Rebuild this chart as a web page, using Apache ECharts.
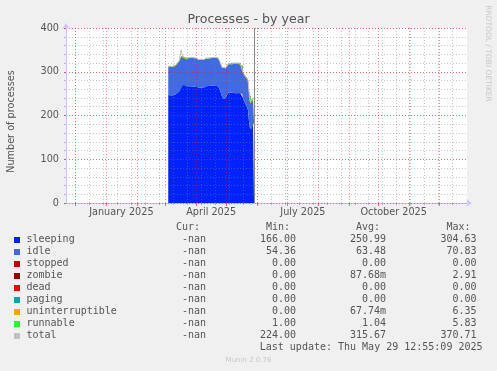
<!DOCTYPE html>
<html><head><meta charset="utf-8">
<script src="https://cdn.jsdelivr.net/npm/echarts@6/dist/echarts.min.js"></script>
<style>html,body{margin:0;padding:0;background:#f0f0f0}#c{width:497px;height:371px}</style>
</head><body><div id="c"></div>
<script>
// ---------- data ----------
const dates = ['2025-03-04','2025-03-08','2025-03-11','2025-03-13','2025-03-15','2025-03-17','2025-03-18','2025-03-19','2025-03-22','2025-03-26','2025-03-31','2025-04-04','2025-04-08','2025-04-11','2025-04-15','2025-04-19','2025-04-23','2025-04-25','2025-04-27','2025-04-29','2025-05-01','2025-05-03','2025-05-07','2025-05-11','2025-05-15','2025-05-17','2025-05-18','2025-05-20','2025-05-22','2025-05-23','2025-05-24','2025-05-25','2025-05-26','2025-05-27','2025-05-28','2025-05-29'];
const sleeping = [247,246,248,250,255,268,274,270,267,267,266,264,263,267,268,268,267,258,243,238,243,252,252,251,252,250,240,228,220,212,186,170,166,172,180,184];
const idle = [65,65,63,67,69,66,64,63,61,65,65,63,64,63,63,64,64,63,66,67,65,65,65,68,67,65,57,61,65,65,67,57,61,58,56,56];
const stopped = [0,0,0,0,0,0,0,0,0,0,0,0,0,0,0,0,0,0,0,0,0,0,0,0,0,0,0,0,0,0,0,0,0,0,0,0];
const zombie = [0,0,2,0,0,0,0,0,0,0,0,0,0,0,0,0,0,0,0,0,0,0,0,0,0,0,0,0,0,0,0,0,0,0,0,0];
const dead = [0,0,0,0,0,0,0,0,0,0,0,0,0,0,0,0,0,0,0,0,0,0,0,0,0,0,0,0,0,0,0,0,0,0,0,0];
const paging = [0,0,0,0,0,0,0,0,0,0,0,0,0,0,0,0,0,0,0,0,0,0,0,0,0,0,0,0,0,0,0,0,0,0,0,0];
const uninterruptible = [0,0,0,0,0,0,0,0,0,0,0,0,0,0,0,0,0,0,0,0,0,0,0,0,0,0,0,0,0,3,0,0,0,0,0,0];
const runnable = [1,1,1,1,1,2,1,1,4,1,1,1,1,1,1,1,1,1,1,1,1,1,3,1,1,1,1,1,1,1,1,5,1,1,1,1];
const total = [313,312,314,318,325,350,339,334,332,333,332,328,328,331,332,333,332,322,310,306,309,318,320,320,320,316,298,290,286,281,254,232,228,231,237,241];

const xStart = '2024-11-21T12:00:00Z';
const xEnd = '2025-12-28T12:00:00Z';
const lastUpdate = '2025-05-29';
const monthStarts = ['2024-12-01','2025-01-01','2025-02-01','2025-03-01','2025-04-01','2025-05-01','2025-06-01','2025-07-01','2025-08-01','2025-09-01','2025-10-01','2025-11-01','2025-12-01'];
const weekMarks = ['2024-12-01','2024-12-15','2024-12-29','2025-01-12','2025-01-26','2025-02-09','2025-02-23','2025-03-09','2025-03-23','2025-04-06','2025-04-20','2025-05-04','2025-05-18','2025-06-01','2025-06-15','2025-06-29','2025-07-13','2025-07-27','2025-08-10','2025-08-24','2025-09-07','2025-09-21','2025-10-05','2025-10-19','2025-11-02','2025-11-16','2025-11-30','2025-12-14'];
const xLabelDates = ['2025-01-16','2025-04-16','2025-07-17','2025-10-16'];
const xLabelTexts = ['January 2025','April 2025','July 2025','October 2025'];
const yTicks = [0,100,200,300,400];

const legendNames = ['sleeping','idle','stopped','zombie','dead','paging','uninterruptible','runnable','total'];
const curVals = ['-nan','-nan','-nan','-nan','-nan','-nan','-nan','-nan','-nan'];
const minVals = ['166.00','54.36','0.00','0.00','0.00','0.00','0.00','1.00','224.00'];
const avgVals = ['250.99','63.48','0.00','87.68m','0.00','0.00','67.74m','1.04','315.67'];
const maxVals = ['304.63','70.83','0.00','2.91','0.00','0.00','6.35','5.83','370.71'];
const colHeads = ['Cur:','Min:','Avg:','Max:'];
const lastUpdateText = 'Last update: Thu May 29 12:55:09 2025';

// ---------- styles ----------
const colors = ['#0022ff','#4169e1','#cc0000','#990000','#ff0000','#00aaaa','#ffa500','#22ff22','#c0c0c0'];
const stackSeries = [sleeping, idle, stopped, zombie, dead, paging, uninterruptible, runnable];
const ts = d => Date.parse(d.length === 10 ? d + 'T00:00:00Z' : d);
const TXT = '#555';
const SANS = 'DejaVu Sans';
const MONO = 'DejaVu Sans Mono';

const series = stackSeries.map((arr, i) => ({
  name: legendNames[i], type: 'line', stack: 'procs', symbol: 'none',
  xAxisIndex: 0, yAxisIndex: 0,
  data: dates.map((d, k) => [ts(d), arr[k]]),
  lineStyle: { width: 0 },
  areaStyle: { color: colors[i], opacity: 1 },
  itemStyle: { color: colors[i] },
  z: 2, silent: true
}));
series.push({
  name: 'total', type: 'line', symbol: 'none', z: 3, silent: true,
  xAxisIndex: 0, yAxisIndex: 0,
  data: dates.map((d, k) => [ts(d), total[k]]),
  lineStyle: { width: 1, color: colors[8] },
  markLine: {
    silent: true, symbol: 'none', animation: false, label: { show: false },
    z: 6,
    data: [
      ...weekMarks.map(d => ({ xAxis: ts(d), lineStyle: { color: 'rgba(128,128,128,0.45)', type: [1, 2], width: 1 } })),
      ...monthStarts.map(d => ({ xAxis: ts(d), lineStyle: { color: 'rgba(255,0,0,0.45)', type: [1, 2], width: 1 } })),
      { xAxis: ts(lastUpdate), lineStyle: { color: '#888', type: 'solid', width: 1 } }
    ]
  }
});

// ---------- legend / texts ----------
const graphics = [];
graphics.push({ type: 'text', x: 248.5, y: 19.5, style: { text: 'Processes - by year', font: '12.6px "' + SANS + '"', fill: TXT, align: 'center', verticalAlign: 'middle' } });
graphics.push({ type: 'text', x: 11, y: 121.5, rotation: Math.PI / 2, style: { text: 'Number of processes', font: '9.7px "' + SANS + '"', fill: TXT, align: 'center', verticalAlign: 'middle' } });
graphics.push({ type: 'text', x: 488, y: 53.5, rotation: -Math.PI / 2, style: { text: 'RRDTOOL / TOBI OETIKER', font: '7.5px "' + SANS + '"', fill: '#c8c8c8', align: 'center', verticalAlign: 'middle' } });
graphics.push({ type: 'text', x: 248.5, y: 360.5, style: { text: 'Munin 2.0.76', font: '7px "' + SANS + '"', fill: '#c8c8c8', align: 'center', verticalAlign: 'middle' } });
const colRight = [206, 296, 386, 476.5];
const headY = 227.7;
colHeads.forEach((h, j) => graphics.push({ type: 'text', x: colRight[j] - 6, y: headY, style: { text: h, font: '10px "' + MONO + '"', fill: TXT, align: 'right', verticalAlign: 'middle' } }));
legendNames.forEach((n, i) => {
  const y = 239.7 + 12 * i;
  graphics.push({ type: 'rect', shape: { x: 14, y: Math.round(y - 3), width: 6, height: 6 }, style: { fill: colors[i] } });
  graphics.push({ type: 'text', x: 26.5, y: y, style: { text: n, font: '10px "' + MONO + '"', fill: TXT, align: 'left', verticalAlign: 'middle' } });
  [curVals[i], minVals[i], avgVals[i], maxVals[i]].forEach((v, j) => graphics.push({ type: 'text', x: colRight[j], y: y, style: { text: v, font: '10px "' + MONO + '"', fill: TXT, align: 'right', verticalAlign: 'middle' } }));
});
graphics.push({ type: 'text', x: 482.5, y: 239.7 + 12 * 9 - 0.5, style: { text: lastUpdateText, font: '10px "' + MONO + '"', fill: TXT, align: 'right', verticalAlign: 'middle' } });

const nearestLabel = v => { let best = 0; xLabelDates.forEach((d, i) => { if (Math.abs(ts(d) - v) < Math.abs(ts(xLabelDates[best]) - v)) best = i; }); return xLabelTexts[best]; };

const chart = echarts.init(document.getElementById('c'), null, { renderer: 'canvas' });
chart.setOption({
  backgroundColor: '#f0f0f0',
  animation: false,
  grid: { left: 66, right: 30, top: 28, bottom: 168, show: true, backgroundColor: '#ffffff', borderWidth: 0, containLabel: false },
  xAxis: [{
    type: 'time', min: ts(xStart), max: ts(xEnd), z: 4,
    axisLine: { show: true, lineStyle: { color: '#c8c8ff', width: 1 }, symbol: ['none', 'arrow'], symbolSize: [6, 6], symbolOffset: [0, 5] },
    axisTick: { show: false },
    axisLabel: { show: false },
    splitLine: { show: false }
  }, {
    type: 'value', min: ts(xStart), max: ts(xEnd), z: 4, position: 'bottom', scale: true,
    axisLine: { show: false },
    axisTick: { show: true, customValues: monthStarts.map(ts), length: 3, inside: false, lineStyle: { color: 'rgba(255,0,0,0.55)' } },
    axisLabel: { show: true, customValues: xLabelDates.map(ts), margin: 4, color: TXT, fontFamily: SANS, fontSize: 9.7, formatter: nearestLabel },
    splitLine: { show: false }
  }, {
    type: 'value', min: ts(xStart), max: ts(xEnd), z: 4, position: 'bottom', scale: true,
    axisLine: { show: false },
    axisTick: { show: true, customValues: weekMarks.map(ts), length: 2, lineStyle: { color: 'rgba(128,128,128,0.5)' } },
    axisLabel: { show: false },
    splitLine: { show: false }
  }],
  yAxis: [{
    type: 'value', min: 0, max: 400, interval: 20, z: 4,
    axisLine: { show: false },
    axisTick: { show: true, length: 2, lineStyle: { color: 'rgba(128,128,128,0.5)' } },
    axisLabel: { show: false },
    splitLine: { show: true, lineStyle: { color: 'rgba(128,128,128,0.45)', type: [1, 2], width: 1 } }
  }, {
    type: 'value', min: yTicks[0], max: yTicks[yTicks.length - 1], interval: 100, position: 'left', z: 5,
    axisLine: { show: true, lineStyle: { color: '#c8c8ff', width: 1 }, symbol: ['none', 'arrow'], symbolSize: [6, 6], symbolOffset: [0, 5] },
    axisTick: { show: true, length: 2, lineStyle: { color: 'rgba(255,0,0,0.55)' } },
    axisLabel: { show: true, margin: 7, color: TXT, fontFamily: SANS, fontSize: 9.7 },
    splitLine: { show: true, lineStyle: { color: 'rgba(255,0,0,0.45)', type: [1, 2], width: 1 } }
  }],
  series: series,
  graphic: graphics
});
</script></body></html>
